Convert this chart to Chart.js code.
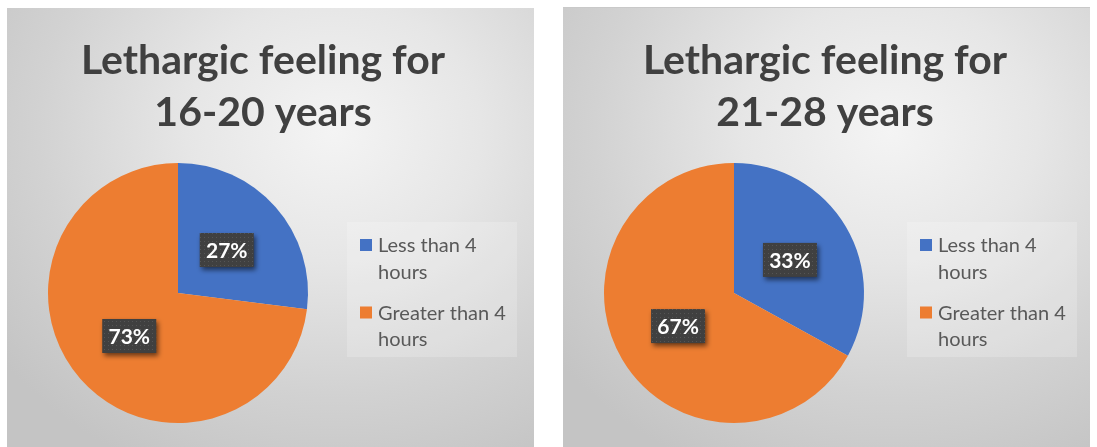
<!DOCTYPE html>
<html lang="en">
<head>
<meta charset="UTF-8">
<title>Lethargic feeling</title>
<script src="https://cdn.jsdelivr.net/npm/chart.js"></script>
<style>
  html, body { margin: 0; padding: 0; background: #fff; }
  body { width: 1097px; height: 447px; position: relative; overflow: hidden; }
  .panel {
    position: absolute; top: 8px; width: 527px; height: 439px;
    background: radial-gradient(ellipse 80% 85% at 62% 28%, #f4f4f4 0%, #e6e6e6 35%, #d2d2d2 70%, #c4c4c4 100%);
  }
  #p1 { left: 7px; }
  #p2 { left: 563px; box-shadow: 0 -1px 0 #c9c9c9; }
</style>
</head>
<body>
<div class="panel" id="p1"><canvas id="chart1" width="527" height="439"></canvas></div>
<div class="panel" id="p2"><canvas id="chart2" width="527" height="439"></canvas></div>
<script>
// data
var categories = ['Less than 4 hours', 'Greater than 4 hours'];
var values1620 = [27, 73];
var values2128 = [33, 67];
var title1620 = ['Lethargic feeling for', '16-20 years'];
var title2128 = ['Lethargic feeling for', '21-28 years'];
var sliceColors = ['#4472c4', '#ed7d31'];

// dotted fill for the data label boxes
function dotPattern(ctx) {
  var c = document.createElement('canvas');
  c.width = 4; c.height = 4;
  var g = c.getContext('2d');
  g.fillStyle = '#404040';
  g.fillRect(0, 0, 4, 4);
  g.fillStyle = '#555555';
  g.fillRect(1, 1, 1, 1);
  return ctx.createPattern(c, 'repeat');
}

function wrapWords(ctx, text, maxW) {
  var words = text.split(' '), lines = [], cur = '';
  words.forEach(function(w) {
    var test = cur ? cur + ' ' + w : w;
    if (cur && ctx.measureText(test).width > maxW) { lines.push(cur); cur = w; }
    else cur = test;
  });
  if (cur) lines.push(cur);
  return lines;
}

var panelDecor = {
  id: 'panelDecor',
  afterDatasetsDraw: function(chart, args, opts) {
    var ctx = chart.ctx;
    var ds = chart.data.datasets[0];
    var meta = chart.getDatasetMeta(0);
    ctx.save();
    ctx.font = 'bold 21px Lato';
    ctx.textAlign = 'center';
    ctx.textBaseline = 'middle';
    meta.data.forEach(function(arc, i) {
      var p = arc.tooltipPosition();
      var w = 54, h = 34;
      ctx.save();
      ctx.shadowColor = 'rgba(0,0,0,0.55)';
      ctx.shadowBlur = 5;
      ctx.shadowOffsetX = 2;
      ctx.shadowOffsetY = 3;
      ctx.fillStyle = dotPattern(ctx);
      ctx.fillRect(p.x - w / 2, p.y - h / 2, w, h);
      ctx.restore();
      ctx.fillStyle = '#ffffff';
      ctx.fillText(ds.data[i] + '%', p.x, p.y + 1);
    });
    ctx.restore();
  },
  afterDraw: function(chart, args, opts) {
    var ctx = chart.ctx;
    ctx.save();
    // title
    ctx.fillStyle = '#404040';
    ctx.font = 'bold 41px Lato';
    ctx.textAlign = 'center';
    ctx.textBaseline = 'alphabetic';
    opts.title.forEach(function(line, i) {
      ctx.fillText(line, opts.titleX, opts.titleY + i * 52);
    });
    // legend
    var lx = opts.legendX, ly = opts.legendY;
    ctx.fillStyle = 'rgba(255,255,255,0.2)';
    ctx.fillRect(lx, ly, 170, 135);
    ctx.font = '20px Lato';
    ctx.textAlign = 'left';
    var y = ly + 30;
    chart.data.labels.forEach(function(label, i) {
      ctx.fillStyle = sliceColors[i];
      ctx.fillRect(lx + 13, y - 13, 12, 12);
      ctx.fillStyle = '#595959';
      var lines = wrapWords(ctx, label, 140);
      lines.forEach(function(l, k) {
        ctx.fillText(l, lx + 31, y + k * 26.5);
      });
      y += lines.length * 26.5 + 14.5;
    });
    ctx.restore();
  }
};

function makePie(id, values, title, legendX, titleX) {
  return new Chart(document.getElementById(id), {
    type: 'pie',
    data: {
      labels: categories,
      datasets: [{ data: values, backgroundColor: sliceColors, borderWidth: 0 }]
    },
    options: {
      responsive: false,
      animation: false,
      layout: { padding: { left: 41, right: 226, top: 155, bottom: 24 } },
      plugins: {
        legend: { display: false },
        tooltip: { enabled: false },
        panelDecor: { title: title, titleX: titleX, titleY: 66, legendX: legendX, legendY: 214 }
      }
    },
    plugins: [panelDecor]
  });
}

document.fonts.load('bold 41px Lato').then(function() {
  return document.fonts.load('20px Lato');
}).then(function() {
  makePie('chart1', values1620, title1620, 340, 256);
  makePie('chart2', values2128, title2128, 344, 262);
});
</script>
</body>
</html>
